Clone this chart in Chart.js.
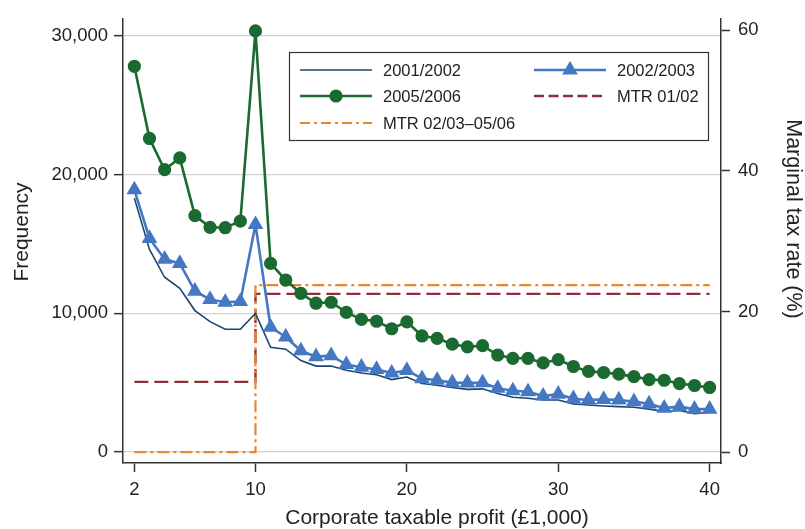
<!DOCTYPE html>
<html>
<head>
<meta charset="utf-8">
<script src="https://cdn.jsdelivr.net/npm/chart.js@4.4.1/dist/chart.umd.min.js"></script>
<style>
  body { margin: 0; background: #fff; }
  #wrap { width: 805px; height: 529px; }
</style>
</head>
<body>
<div id="wrap"><canvas id="chart" width="805" height="529"></canvas></div>
<script>
// profit bands (£1,000)
const profit = [2, 3, 4, 5, 6, 7, 8, 9, 10, 11, 12, 13, 14, 15, 16, 17, 18, 19, 20,
  21, 22, 23, 24, 25, 26, 27, 28, 29, 30, 31, 32, 33, 34, 35, 36, 37, 38, 39, 40];

// number of companies per band
const freq0102 = [18300, 14600, 12600, 11800, 10200, 9400, 8850, 8850, 10000, 7550,
  7420, 6600, 6200, 6200, 5900, 5700, 5580, 5230, 5410, 4940,
  4820, 4660, 4520, 4560, 4230, 3950, 3880, 3760, 3760, 3480,
  3400, 3330, 3280, 3240, 3100, 2930, 3000, 2770, 2860];
const freq0203 = [18900, 15400, 13900, 13600, 11600, 11000, 10800, 10850, 16400, 9000,
  8300, 7300, 6880, 6950, 6310, 6120, 5960, 5700, 5890, 5300,
  5180, 5010, 4990, 5000, 4600, 4420, 4350, 4040, 4180, 3850,
  3760, 3800, 3760, 3640, 3480, 3170, 3280, 3100, 3100];
const freq0506 = [27800, 22600, 20350, 21200, 17040, 16200, 16170, 16640, 30350, 13600,
  12400, 11440, 10730, 10800, 10070, 9570, 9430, 8890, 9390, 8370,
  8200, 7780, 7590, 7670, 7000, 6760, 6760, 6430, 6670, 6170,
  5820, 5740, 5620, 5440, 5230, 5180, 4940, 4800, 4660];

// marginal tax rate schedules (%)
const mtrProfit = [2, 10, 10, 40];
const mtr0102 = [10, 10, 22.5, 22.5];
const mtr0206 = [0, 0, 23.75, 23.75];

// axis ticks
const xTicks = [2, 10, 20, 30, 40];
const freqTicks = [0, 10000, 20000, 30000];
const rateTicks = [0, 20, 40, 60];

const FONT = "'Liberation Sans', Arial, Helvetica, sans-serif";
const AXIS = '#333333';

function pts(xs, ys) {
  return xs.map((x, i) => ({ x: x, y: ys[i] }));
}

// legend in a framed box inside the plot
const legendSlots = [
  { lx: 300, ty: 70, tx: 383 },
  { lx: 534, ty: 70, tx: 617 },
  { lx: 300, ty: 96, tx: 383 },
  { lx: 534, ty: 96, tx: 617 },
  { lx: 300, ty: 123, tx: 383 }
];
const boxLegend = {
  id: 'boxLegend',
  afterDatasetsDraw(chart) {
    const ctx = chart.ctx;
    ctx.save();
    ctx.fillStyle = '#fff';
    ctx.fillRect(289, 52, 419, 88);
    ctx.strokeStyle = AXIS;
    ctx.lineWidth = 1.2;
    ctx.strokeRect(289.5, 52.5, 419, 88);
    chart.data.datasets.forEach((ds, i) => {
      const s = legendSlots[i];
      ctx.save();
      ctx.strokeStyle = ds.borderColor;
      ctx.lineWidth = ds.borderWidth;
      ctx.setLineDash(ds.legendDash || []);
      ctx.beginPath();
      ctx.moveTo(s.lx, s.ty);
      ctx.lineTo(s.lx + 72, s.ty);
      ctx.stroke();
      ctx.setLineDash([]);
      if (ds.pointRadius > 0) {
        ctx.fillStyle = ds.pointBackgroundColor;
        ctx.strokeStyle = ds.pointBorderColor;
        Chart.helpers.drawPoint(ctx, {
          pointStyle: ds.pointStyle, radius: ds.pointRadius, rotation: 0, borderWidth: 1
        }, s.lx + 36, s.ty);
      }
      ctx.restore();
      ctx.fillStyle = '#222';
      ctx.font = '16.5px ' + FONT;
      ctx.textBaseline = 'middle';
      ctx.textAlign = 'left';
      ctx.fillText(ds.label, s.tx, s.ty + 1);
    });
    ctx.restore();
  }
};

// axis titles placed like the original figure
const axisTitles = {
  id: 'axisTitles',
  afterDraw(chart) {
    const ctx = chart.ctx;
    ctx.save();
    ctx.fillStyle = '#222';
    ctx.textAlign = 'center';
    ctx.textBaseline = 'middle';
    ctx.font = '21px ' + FONT;
    ctx.fillText('Corporate taxable profit (£1,000)', 437, 518);
    ctx.save();
    ctx.translate(22, 232);
    ctx.rotate(-Math.PI / 2);
    ctx.fillText('Frequency', 0, 0);
    ctx.restore();
    ctx.font = '21.5px ' + FONT;
    ctx.save();
    ctx.translate(793, 219);
    ctx.rotate(Math.PI / 2);
    ctx.fillText('Marginal tax rate (%)', 0, 0);
    ctx.restore();
    ctx.restore();
  }
};

const tickFont = { family: FONT, size: 18.5 };

new Chart(document.getElementById('chart'), {
  type: 'line',
  data: {
    datasets: [
      {
        label: '2001/2002',
        data: pts(profit, freq0102),
        yAxisID: 'y',
        borderColor: '#1a476f',
        borderWidth: 1.6,
        pointRadius: 0,
        order: 2
      },
      {
        label: '2002/2003',
        data: pts(profit, freq0203),
        yAxisID: 'y',
        borderColor: '#4478c2',
        borderWidth: 2.6,
        pointStyle: 'triangle',
        pointRadius: 6.5,
        pointBackgroundColor: '#4478c2',
        pointBorderColor: '#4478c2',
        order: 1
      },
      {
        label: '2005/2006',
        data: pts(profit, freq0506),
        yAxisID: 'y',
        borderColor: '#1a6a32',
        borderWidth: 2.6,
        pointStyle: 'circle',
        pointRadius: 5.3,
        pointBackgroundColor: '#1a6a32',
        pointBorderColor: '#1a6a32',
        order: 0
      },
      {
        label: 'MTR 01/02',
        data: pts(mtrProfit, mtr0102),
        yAxisID: 'y1',
        borderColor: '#8e2f38',
        borderWidth: 2.4,
        borderDash: [14, 6],
        legendDash: [10, 4.5],
        pointRadius: 0,
        order: 4
      },
      {
        label: 'MTR 02/03–05/06',
        data: pts(mtrProfit, mtr0206),
        yAxisID: 'y1',
        borderColor: '#e8882c',
        borderWidth: 2.2,
        borderDash: [12, 4, 3, 4],
        legendDash: [10, 4, 3, 4],
        pointRadius: 0,
        order: 3
      }
    ]
  },
  options: {
    responsive: false,
    devicePixelRatio: 1,
    animation: false,
    layout: { padding: { top: 13, left: 0, right: 0, bottom: 0 } },
    elements: { line: { tension: 0 } },
    scales: {
      x: {
        type: 'linear',
        min: 1.25,
        max: 40.75,
        afterBuildTicks: s => { s.ticks = xTicks.map(v => ({ value: v })); },
        afterFit: s => { s.height = 66; },
        grid: { drawOnChartArea: false, tickLength: 9, tickColor: AXIS, tickWidth: 1.5 },
        border: { display: true, color: AXIS, width: 1.5 },
        ticks: { font: tickFont, color: '#222', padding: 7, maxRotation: 0 }
      },
      y: {
        position: 'left',
        min: -782,
        max: 31200,
        afterBuildTicks: s => { s.ticks = freqTicks.map(v => ({ value: v })); },
        afterFit: s => { s.width = 123; },
        grid: { color: '#d2d2d2', lineWidth: 1.3, tickLength: 9, tickColor: AXIS, tickWidth: 1.5 },
        border: { display: true, color: AXIS, width: 1.5 },
        ticks: {
          font: tickFont, color: '#222', padding: 6,
          callback: v => v.toLocaleString('en-US')
        }
      },
      y1: {
        position: 'right',
        min: -1.54,
        max: 61.57,
        afterBuildTicks: s => { s.ticks = rateTicks.map(v => ({ value: v })); },
        afterFit: s => { s.width = 84; },
        grid: { drawOnChartArea: false, tickLength: 9, tickColor: AXIS, tickWidth: 1.5 },
        border: { display: true, color: AXIS, width: 1.5 },
        ticks: { font: tickFont, color: '#222', padding: 8 }
      }
    },
    plugins: {
      legend: { display: false },
      tooltip: { enabled: false }
    }
  },
  plugins: [boxLegend, axisTitles]
});
</script>
</body>
</html>
